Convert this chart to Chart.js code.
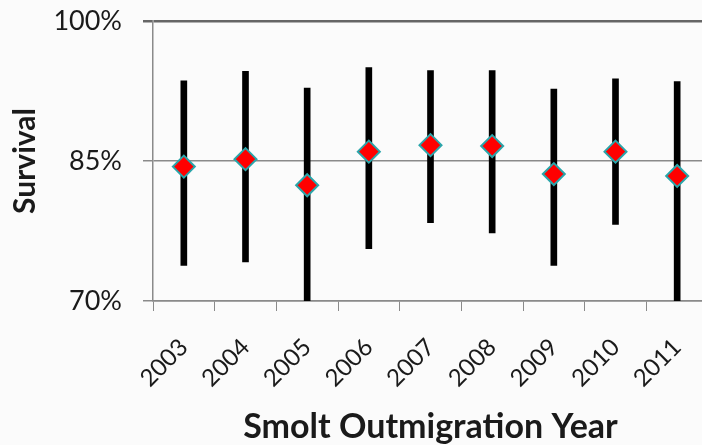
<!DOCTYPE html>
<html>
<head>
<meta charset="utf-8">
<script src="https://cdn.jsdelivr.net/npm/chart.js@4.4.0/dist/chart.umd.min.js"></script>
<style>
  html, body { margin: 0; padding: 0; background: #fbfbfb; overflow: hidden; }
  #wrap { position: relative; width: 712px; height: 445px; }
</style>
</head>
<body>
<div id="wrap"><canvas id="c"></canvas></div>
<script>
const years = ['2003', '2004', '2005', '2006', '2007', '2008', '2009', '2010', '2011'];
const survival = [84.4, 85.2, 82.4, 86.0, 86.7, 86.6, 83.6, 86.0, 83.4];
const upperCI = [93.6, 94.6, 92.8, 95.0, 94.7, 94.7, 92.7, 93.8, 93.5];
const lowerCI = [73.8, 74.2, 70.0, 75.6, 78.4, 77.3, 73.8, 78.2, 70.0];
const yTicks = [70, 85, 100];

const ranges = lowerCI.map((lo, i) => [lo, upperCI[i]]);

new Chart(document.getElementById('c'), {
  data: {
    labels: years,
    datasets: [
      {
        type: 'line',
        label: 'Survival',
        data: survival,
        showLine: false,
        pointStyle: 'rectRot',
        pointRadius: 11,
        pointHoverRadius: 11,
        pointBackgroundColor: '#ff0000',
        pointBorderColor: '#2aa5aa',
        pointBorderWidth: 2,
        order: 0
      },
      {
        type: 'bar',
        label: 'CI',
        data: ranges,
        backgroundColor: '#000000',
        borderWidth: 0,
        barThickness: 6,
        order: 1
      }
    ]
  },
  options: {
    responsive: true,
    maintainAspectRatio: false,
    animation: false,
    layout: { autoPadding: false, padding: { left: 0, right: 4, top: 21, bottom: 0 } },
    plugins: { legend: { display: false }, tooltip: { enabled: false } },
    scales: {
      x: {
        type: 'category',
        offset: true,
        grid: { display: true, drawOnChartArea: false, drawTicks: true, tickLength: 10, color: '#8a8a8a', offset: true },
        border: { display: true, color: '#8a8a8a', width: 1.5 },
        ticks: {
          color: '#1a1a1a',
          font: { family: 'Lato', size: 24 },
          minRotation: 45, maxRotation: 45,
          padding: 22,
          autoSkip: false
        },
        title: {
          display: true,
          text: 'Smolt Outmigration Year',
          color: '#1a1a1a',
          font: { family: 'Lato', size: 34, weight: 'bold' },
          padding: { top: 0, bottom: -2 }
        },
        afterFit: (s) => { s.height = 144; s.paddingLeft = 0; s.paddingRight = 0; }
      },
      y: {
        type: 'linear',
        min: 70, max: 100,
        afterBuildTicks: (s) => { s.ticks = yTicks.map(v => ({ value: v })); },
        grid: {
          drawOnChartArea: true,
          drawTicks: true,
          tickLength: 10,
          color: (ctx) => ctx.tick && ctx.tick.value === 100 ? '#666666' : '#8a8a8a',
          lineWidth: (ctx) => ctx.tick && ctx.tick.value === 100 ? 2.5 : 1.5
        },
        border: { display: true, color: '#8a8a8a', width: 1.5 },
        ticks: {
          color: '#1a1a1a',
          font: { family: 'Lato', size: 27 },
          padding: 21,
          callback: (v) => v + '%'
        },
        title: {
          display: true,
          text: 'Survival',
          color: '#1a1a1a',
          font: { family: 'Lato', size: 30, weight: 'bold' },
          padding: { top: 7, bottom: 0 }
        },
        afterFit: (s) => { s.width = 153; s.paddingTop = 0; s.paddingBottom = 0; }
      }
    }
  }
});
</script>
</body>
</html>
